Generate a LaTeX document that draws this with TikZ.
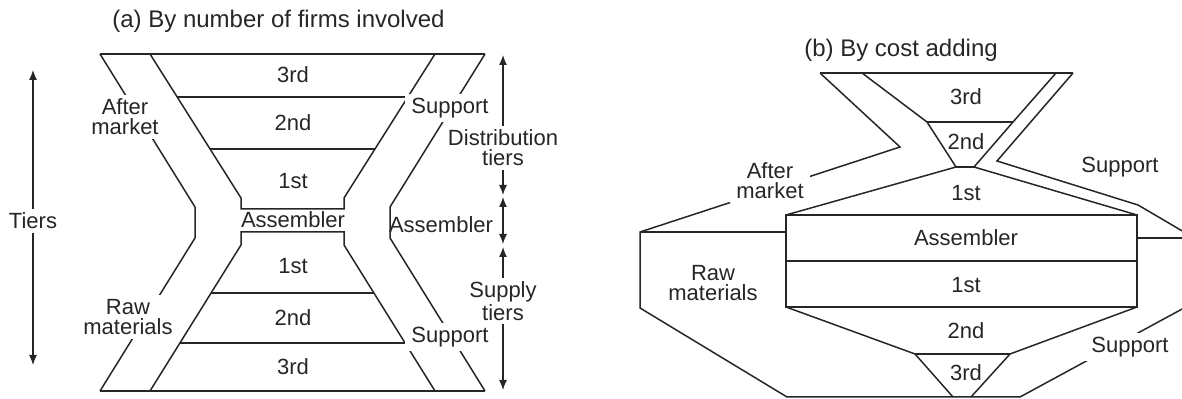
\documentclass[tikz,border=0pt]{standalone}
\usepackage{fontspec}
\setmainfont{Liberation Sans}
\usetikzlibrary{arrows.meta}
\definecolor{ink}{HTML}{262626}
\begin{document}
\begin{tikzpicture}[x=0.5pt,y=-0.5pt,
  edge/.style={draw=ink,line width=0.75pt,line join=miter},
  lbl/.style={text=ink,font=\fontsize{11}{10}\selectfont,align=center,inner sep=1pt},
  tag/.style={lbl,fill=white,inner xsep=3pt,inner ysep=2pt},
  ttl/.style={text=ink,font=\fontsize{12}{14}\selectfont,inner sep=0pt},
  dim/.style={draw=ink,line width=0.65pt,{Latex[length=5pt,width=4pt]}-{Latex[length=5pt,width=4pt]}}]
\useasboundingbox (0,0) rectangle (1182,399);

% ---------- (a) By number of firms involved ----------
\node[ttl,anchor=west] (ta) at (112,21) {(a) By number of firms involved};

% outer channels
\coordinate (a1) at (100,54);  \coordinate (a2) at (195,207);
\coordinate (a3) at (195,238); \coordinate (a4) at (100,391);
\coordinate (d1) at (485,54);  \coordinate (d2) at (390,207);
\coordinate (d3) at (390,238); \coordinate (d4) at (485,391);
% inner funnel
\coordinate (b1) at (150,54);  \coordinate (b2) at (241,198); \coordinate (b3) at (241,209);
\coordinate (b4) at (241,232); \coordinate (b5) at (241,245); \coordinate (b6) at (150,391);
\coordinate (c1) at (435,54);  \coordinate (c2) at (344,198); \coordinate (c3) at (344,209);
\coordinate (c4) at (344,232); \coordinate (c5) at (344,245); \coordinate (c6) at (435,391);

\draw[edge] (a1) -- (d1);
\draw[edge] (a4) -- (d4);
\draw[edge] (a1) -- (a2) -- (a3) -- (a4);
\draw[edge] (d1) -- (d2) -- (d3) -- (d4);
\draw[edge] (b1) -- (b2) -- (b3) -- (c3) -- (c2) -- (c1);
\draw[edge] (b6) -- (b5) -- (b4) -- (c4) -- (c5) -- (c6);
% tier dividers
\draw[edge] (177.2,97) -- (407.8,97);
\draw[edge] (210,149) -- (375,149);
\draw[edge] (211.1,293) -- (373.9,293);
\draw[edge] (179.9,343) -- (405.1,343);

\node[lbl] (a3rd) at (293,75) {3rd};
\node[lbl] (a2nd) at (293,123) {2nd};
\node[lbl] (a1st) at (293,181) {1st};
\node[lbl] (aasm) at (293,220) {Assembler};
\node[lbl] (a1sl) at (293,266) {1st};
\node[lbl] (a2sl) at (293,318) {2nd};
\node[lbl] (a3sl) at (293,367) {3rd};

% dimension arrows
\coordinate (t1) at (33,70);   \coordinate (t2) at (33,365);
\coordinate (r1) at (503,55);  \coordinate (r2) at (503,195);
\coordinate (r3) at (503,197); \coordinate (r4) at (503,244);
\coordinate (r5) at (503,247); \coordinate (r6) at (503,390);
\draw[dim] (t1) -- (t2);
\draw[dim] (r1) -- (r2);
\draw[dim] (r3) -- (r4);
\draw[dim] (r5) -- (r6);

\node[tag] (tiers) at (33,221) {Tiers};
\node[tag] (aft) at (125,117) {After\\market};
\node[tag] (raw) at (128,317) {Raw\\materials};
\node[tag] (sup1) at (450,108) {Support};
\node[tag] (sup2) at (450,337) {Support};
\node[tag] (dist) at (503,148) {Distribution\\tiers};
\node[tag] (supp) at (503,301) {Supply\\tiers};
\node[lbl] (asmr) at (441,225) {Assembler};

% ---------- (b) By cost adding ----------
\node[ttl] (tb) at (901,50) {(b) By cost adding};

% after-market / raw-material outline
\coordinate (p1) at (820,73);  \coordinate (p2) at (900,147);
\coordinate (p3) at (640,232); \coordinate (p4) at (640,308);
\coordinate (p5) at (787,397);
% support outline
\coordinate (q1) at (1073,73);  \coordinate (q2) at (997,161);
\coordinate (q3) at (1138,205); \coordinate (q4) at (1184,232);
\coordinate (q5) at (1184,308); \coordinate (q6) at (1020,397);
% upper funnel
\coordinate (u1) at (862,73);  \coordinate (u2) at (927,122); \coordinate (u3) at (956,167);
\coordinate (v1) at (1056,73); \coordinate (v2) at (1013,122); \coordinate (v3) at (974,167);
% assembler box
\coordinate (x1) at (786,215); \coordinate (x2) at (1137,215);
\coordinate (x3) at (786,307); \coordinate (x4) at (1137,307);
% lower funnel
\coordinate (w1) at (915,354); \coordinate (w2) at (953,397);
\coordinate (z1) at (1010,354); \coordinate (z2) at (971,397);

\draw[edge] (p1) -- (q1);
\draw[edge] (p1) -- (p2) -- (p3) -- (p4) -- (p5) -- (q6) -- (q5) -- (q4) -- (q3) -- (q2) -- (q1);
\draw[edge] (p3) -- (786,232);
\draw[edge] (1137,238) -- (1184,238);
\draw[edge] (u1) -- (u2) -- (u3) -- (x1);
\draw[edge] (v1) -- (v2) -- (v3) -- (x2);
\draw[edge] (u2) -- (v2);
\draw[edge] (u3) -- (v3);
\draw[edge] (x1) rectangle (x4);
\draw[edge] (786,261) -- (1137,261);
\draw[edge] (x3) -- (w1) -- (w2);
\draw[edge] (x4) -- (z1) -- (z2);
\draw[edge] (w1) -- (z1);

\node[lbl] (b3rd) at (966,97) {3rd};
\node[lbl] (b2nd) at (966,142) {2nd};
\node[lbl] (b1st) at (966,193) {1st};
\node[lbl] (basm) at (966,238) {Assembler};
\node[lbl] (b1sl) at (966,285) {1st};
\node[lbl] (b2sl) at (966,331) {2nd};
\node[lbl] (b3sl) at (966,373) {3rd};

\node[tag] (baft) at (770,181) {After\\market};
\node[tag] (braw) at (713,283) {Raw\\materials};
\node[tag] (bsup1) at (1120,167) {Support};
\node[tag] (bsup2) at (1130,347) {Support};
\end{tikzpicture}
\end{document}
